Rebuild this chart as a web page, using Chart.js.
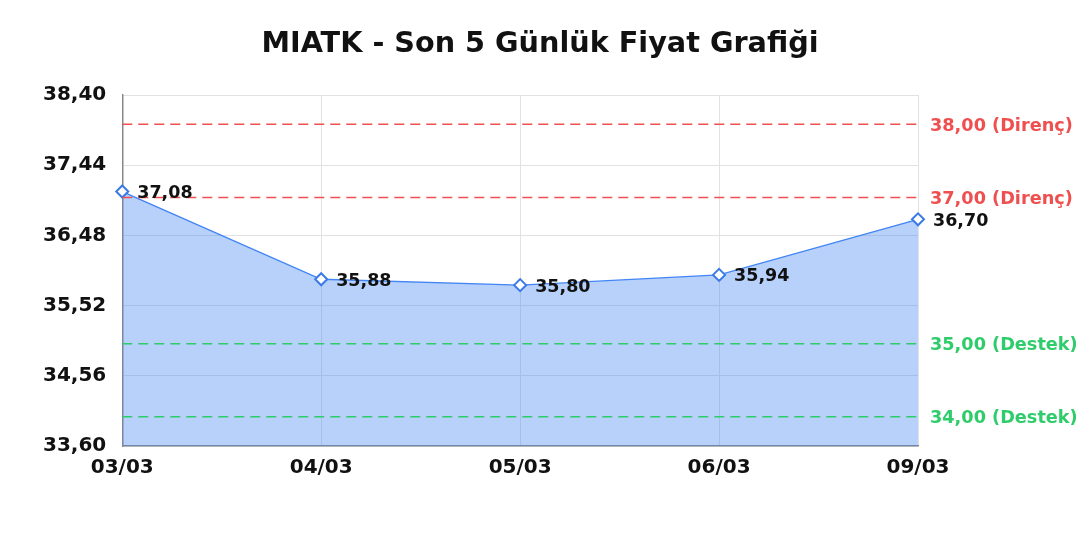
<!DOCTYPE html>
<html>
<head>
<meta charset="utf-8">
<script src="https://cdn.jsdelivr.net/npm/chart.js@4"></script>
<style>
    html, body { margin: 0; padding: 0; background: #fff; }
    #wrap { width: 1080px; height: 540px; }
</style>
</head>
<body>
<div id="wrap"><canvas id="priceChart"></canvas></div>
<script>
// Data
const dates = ['03/03', '04/03', '05/03', '06/03', '09/03'];
const prices = [37.08, 35.88, 35.80, 35.94, 36.70];
const yTicks = [33.60, 34.56, 35.52, 36.48, 37.44, 38.40];
const resistanceLevels = [38.00, 37.00];
const supportLevels = [35.00, 34.00];
const titleText = 'MIATK - Son 5 Günlük Fiyat Grafiği';

const FONT = "'DejaVu Sans', sans-serif";
const fmt = v => v.toFixed(2).replace('.', ',');

// Draws support / resistance lines, point value labels and the page-centred title
const levelsPlugin = {
    id: 'levels',
    afterDatasetsDraw(chart) {
        const { ctx, chartArea, scales } = chart;
        const drawLevel = (value, color, text) => {
            const y = scales.y.getPixelForValue(value);
            ctx.save();
            ctx.strokeStyle = color;
            ctx.lineWidth = 1.5;
            ctx.setLineDash([10, 6]);
            ctx.beginPath();
            ctx.moveTo(chartArea.left, y);
            ctx.lineTo(chartArea.right, y);
            ctx.stroke();
            ctx.setLineDash([]);
            ctx.fillStyle = color;
            ctx.font = 'bold 17.7px ' + FONT;
            ctx.textAlign = 'left';
            ctx.textBaseline = 'middle';
            ctx.fillText(text, chartArea.right + 12, y + 2);
            ctx.restore();
        };
        resistanceLevels.forEach(v => drawLevel(v, '#ef4f4f', fmt(v) + ' (Direnç)'));
        supportLevels.forEach(v => drawLevel(v, '#2ecc6a', fmt(v) + ' (Destek)'));

        // value labels next to each point
        const meta = chart.getDatasetMeta(0);
        ctx.save();
        ctx.fillStyle = '#111';
        ctx.font = 'bold 17.5px ' + FONT;
        ctx.textAlign = 'left';
        ctx.textBaseline = 'middle';
        meta.data.forEach((pt, i) => {
            ctx.fillText(fmt(prices[i]), pt.x + 15, pt.y + 2);
        });
        ctx.restore();
    },
    afterDraw(chart) {
        const { ctx } = chart;
        ctx.save();
        ctx.fillStyle = '#111';
        ctx.font = 'bold 28.7px ' + FONT;
        ctx.textAlign = 'center';
        ctx.textBaseline = 'middle';
        ctx.fillText(titleText, chart.width / 2, 45);
        ctx.restore();
    }
};

new Chart(document.getElementById('priceChart'), {
    type: 'line',
    data: {
        labels: dates,
        datasets: [{
            data: prices,
            borderColor: '#4285f4',
            backgroundColor: 'rgba(66, 133, 244, 0.38)',
            borderWidth: 1.4,
            fill: 'start',
            tension: 0,
            pointStyle: 'rectRot',
            pointRadius: 6,
            pointBorderWidth: 2,
            pointBackgroundColor: '#fff',
            pointBorderColor: '#3b7ae6'
        }]
    },
    options: {
        responsive: true,
        maintainAspectRatio: false,
        animation: false,
        layout: { padding: { left: 27, right: 162, top: 95, bottom: 50 } },
        plugins: {
            legend: { display: false },
            tooltip: { enabled: false },
            title: { display: false }
        },
        scales: {
            x: {
                offset: false,
                grid: { color: '#e2e2e2', drawTicks: false },
                border: { color: '#888', width: 1.5 },
                ticks: {
                    color: '#111',
                    padding: 10,
                    font: { family: FONT, size: 20, weight: 'bold' }
                }
            },
            y: {
                min: yTicks[0],
                max: yTicks[yTicks.length - 1],
                afterBuildTicks(axis) {
                    axis.ticks = yTicks.map(v => ({ value: v }));
                },
                grid: { color: '#e2e2e2', drawTicks: false },
                border: { color: '#888', width: 1.5 },
                ticks: {
                    color: '#111',
                    padding: 16,
                    font: { family: FONT, size: 20, weight: 'bold' },
                    callback: v => fmt(v)
                }
            }
        }
    },
    plugins: [levelsPlugin]
});
</script>
</body>
</html>
